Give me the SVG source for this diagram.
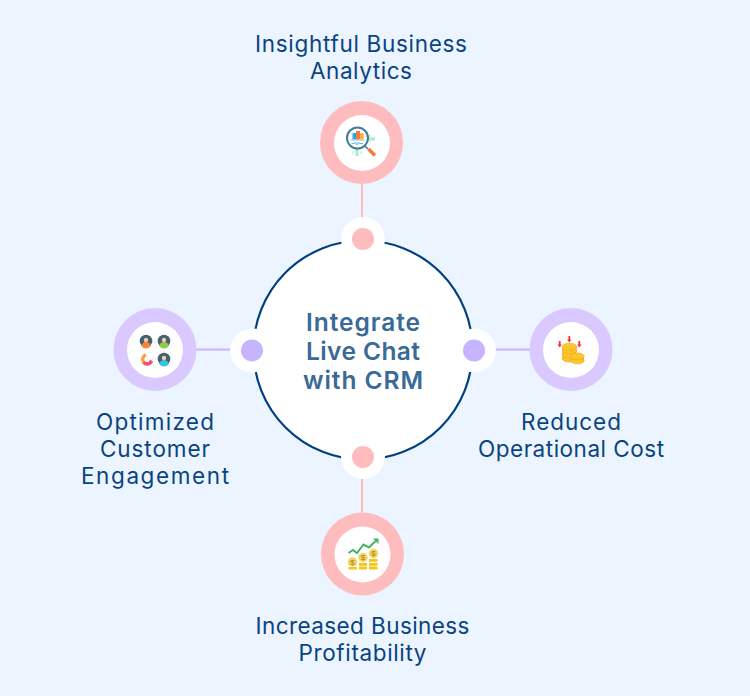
<svg xmlns="http://www.w3.org/2000/svg" width="750" height="696" viewBox="0 0 750 696">
<style>
.lbl{font-family:Inter,"Open Sans","Liberation Sans",sans-serif;font-size:22.500px;fill:#0a4480;text-anchor:middle}
.ttl{font-family:Inter,"Open Sans","Liberation Sans",sans-serif;font-size:24.500px;font-weight:600;fill:#3a6a96;text-anchor:middle}
.w{fill:#fff}
.pk{fill:#ffbcbf}
.pu{fill:#c7b4ff}
.pl{fill:#d9c9ff}
.cp{stroke:#ffbcbf;stroke-width:2;fill:none}
.cv{stroke:#c7b4ff;stroke-width:2;fill:none}
.coin{fill:#fdc72f;stroke:#ee9f0c;stroke-width:.6}
.d{font-family:"Liberation Sans",sans-serif;font-size:8px;fill:#a8842a;text-anchor:middle}
.face{fill:#45606f}
.skin{fill:#f6c9a8}
</style>
<rect width="750" height="696" fill="#ebf4ff"/>
<g id="connectors">
<path class="cp" d="M362 183V220"/>
<path class="cp" d="M362 478V514"/>
<path class="cv" d="M196 349.500H232"/>
<path class="cv" d="M495 349.500H531"/>
</g>
<g id="center"><circle cx="363" cy="350" r="109.500" fill="#fff" stroke="#004080" stroke-width="2.200"/>
<text class="ttl" x="363" y="330.500" textLength="114" lengthAdjust="spacing">Integrate</text>
<text class="ttl" x="363" y="359.500" textLength="114" lengthAdjust="spacing">Live Chat</text>
<text class="ttl" x="363" y="388.500" textLength="120" lengthAdjust="spacing">with CRM</text></g>
<g id="dot-top"><circle class="w" cx="363" cy="239" r="22"/><circle class="pk" cx="363" cy="239" r="11"/></g>
<g id="dot-bottom"><circle class="w" cx="363" cy="457" r="22"/><circle class="pk" cx="363" cy="457" r="11"/></g>
<g id="dot-left"><circle class="w" cx="252" cy="350.500" r="22"/><circle class="pu" cx="252" cy="350.500" r="11"/></g>
<g id="dot-right"><circle class="w" cx="474" cy="350.500" r="22"/><circle class="pu" cx="474" cy="350.500" r="11"/></g>

<g id="node-analytics">
<circle class="pk" cx="361.500" cy="142.500" r="41.500"/><circle class="w" cx="362" cy="143" r="28"/>
<path d="M367 139h8" stroke="#a8ecc4" stroke-width="3" fill="none"/>
<path d="M357 149v7" stroke="#a8ecc4" stroke-width="3" fill="none"/>
<path d="M353 151v3M361 151v3M370 135v7" stroke="#c4f2d6" stroke-width="1.500" fill="none"/>
<circle cx="357.500" cy="138" r="10.500" fill="#fff" stroke="#3f7d9b" stroke-width="2"/>
<rect x="352.500" y="133" width="3.500" height="6.500" fill="#29abe2"/><rect x="356" y="131" width="4" height="8.500" fill="#f47b3a"/><rect x="360" y="133" width="3.500" height="6.500" fill="#fbb03b"/>
<path d="M350.500 140h14" stroke="#a9bcc6" stroke-width="1"/>
<path d="M351.500 143.500h3l1-1.500 1.500 3 1.500-3 1 1.500h3.500" stroke="#29abe2" stroke-width=".8" fill="none"/>
<path d="M365 146l3 3" stroke="#3f7d9b" stroke-width="1.500"/>
<path d="M368.500 149l6.500 6.500" stroke="#f47b3a" stroke-width="3.500"/>
<text class="lbl" x="361" y="51.500" textLength="212" lengthAdjust="spacing">Insightful Business</text>
<text class="lbl" x="361" y="78.500" textLength="102" lengthAdjust="spacing">Analytics</text>
</g>

<g id="node-engagement">
<circle class="pl" cx="155" cy="349.500" r="41.500"/><circle class="w" cx="155" cy="350" r="28"/>
<path d="M146 342h18v17h-17" stroke="#e6e8f0" stroke-width="1" fill="none"/>
<circle class="face" cx="146" cy="341" r="6.300"/><path d="M141.500 346.500a4.500 4.500 0 0 1 9 0a6.300 6.300 0 0 1-9 0z" fill="#f4883a"/><circle class="skin" cx="146" cy="340" r="2.200"/>
<circle class="face" cx="164" cy="341" r="6.300"/><path d="M159.500 346.500a4.500 4.500 0 0 1 9 0a6.300 6.300 0 0 1-9 0z" fill="#8ccf45"/><circle class="skin" cx="164" cy="340" r="2.200"/>
<circle class="face" cx="164" cy="359" r="6.300"/><path d="M159.500 364.500a4.500 4.500 0 0 1 9 0a6.300 6.300 0 0 1-9 0z" fill="#34c4e6"/><circle class="skin" cx="164" cy="358" r="2.200"/>
<path d="M146 355a4.500 4.500 0 0 0-2.500 7" stroke="#f9a03f" stroke-width="3.500" fill="none"/><path d="M143.500 362a4.500 4.500 0 0 0 7 .5l1-2" stroke="#f4506a" stroke-width="3.500" fill="none"/>
<text class="lbl" x="155" y="429.500" textLength="118" lengthAdjust="spacing">Optimized</text>
<text class="lbl" x="155" y="456.500" textLength="110" lengthAdjust="spacing">Customer</text>
<text class="lbl" x="155" y="483.500" textLength="148" lengthAdjust="spacing">Engagement</text>
</g>

<g id="node-cost">
<circle class="pl" cx="571" cy="349.500" r="41.500"/><circle class="w" cx="571" cy="350" r="28"/>
<rect x="562.500" y="346" width="14" height="14" fill="#f6b01c"/>
<ellipse class="coin" cx="569.500" cy="358.500" rx="7.300" ry="3.500"/><ellipse class="coin" cx="569.500" cy="354.500" rx="7.300" ry="3.500"/><ellipse class="coin" cx="569.500" cy="350.500" rx="7.300" ry="3.500"/><ellipse class="coin" cx="569.500" cy="347" rx="7.300" ry="3.800"/>
<rect x="571" y="356" width="13" height="6" fill="#f6b01c"/>
<ellipse class="coin" cx="577.500" cy="360.500" rx="6.700" ry="3.300"/><ellipse class="coin" cx="577.500" cy="356.500" rx="6.700" ry="3.500"/>
<path d="M559.700 341v4M569.300 336v4M579.300 341v4" stroke="#f5333f" stroke-width="1.800"/>
<path d="M557.500 344.500h4.400l-2.200 3zM567.100 339.500h4.400l-2.200 3zM577.100 344.500h4.400l-2.200 3z" fill="#f5333f"/>
<text class="lbl" x="571" y="429.500" textLength="100" lengthAdjust="spacing">Reduced</text>
<text class="lbl" x="571" y="456.500" textLength="186" lengthAdjust="spacing">Operational Cost</text>
</g>

<g id="node-profit">
<circle class="pk" cx="362.500" cy="554" r="41.500"/><circle class="w" cx="362.500" cy="554.500" r="28"/>
<path d="M348.500 553l4.500-3 4 3 6.500-8.500 5.500 3 7-7" stroke="#45b26b" stroke-width="2" fill="none"/>
<path d="M373 538.500h5.500v5.500z" fill="#45b26b"/>
<rect x="348.500" y="567" width="8.500" height="2.500" fill="#f5c518"/>
<rect x="359" y="563" width="8" height="2.800" fill="#f5c518"/><rect x="359" y="566.500" width="8" height="3" fill="#f5c518"/>
<rect x="369" y="559" width="8.500" height="2.800" fill="#f5c518"/><rect x="369" y="563" width="8.500" height="2.800" fill="#f5c518"/><rect x="369" y="566.500" width="8.500" height="3" fill="#f5c518"/>
<circle cx="352.500" cy="562" r="4.700" fill="#f4d35e"/><circle cx="363" cy="557.500" r="4.700" fill="#f4d35e"/><circle cx="373.500" cy="553.500" r="4.700" fill="#f4d35e"/>
<text class="d" x="352.500" y="564.800">$</text><text class="d" x="363" y="560.300">$</text><text class="d" x="373.500" y="556.300">$</text>
<text class="lbl" x="362.500" y="633.500" textLength="214" lengthAdjust="spacing">Increased Business</text>
<text class="lbl" x="362.500" y="660.500" textLength="128" lengthAdjust="spacing">Profitability</text>
</g>
</svg>
